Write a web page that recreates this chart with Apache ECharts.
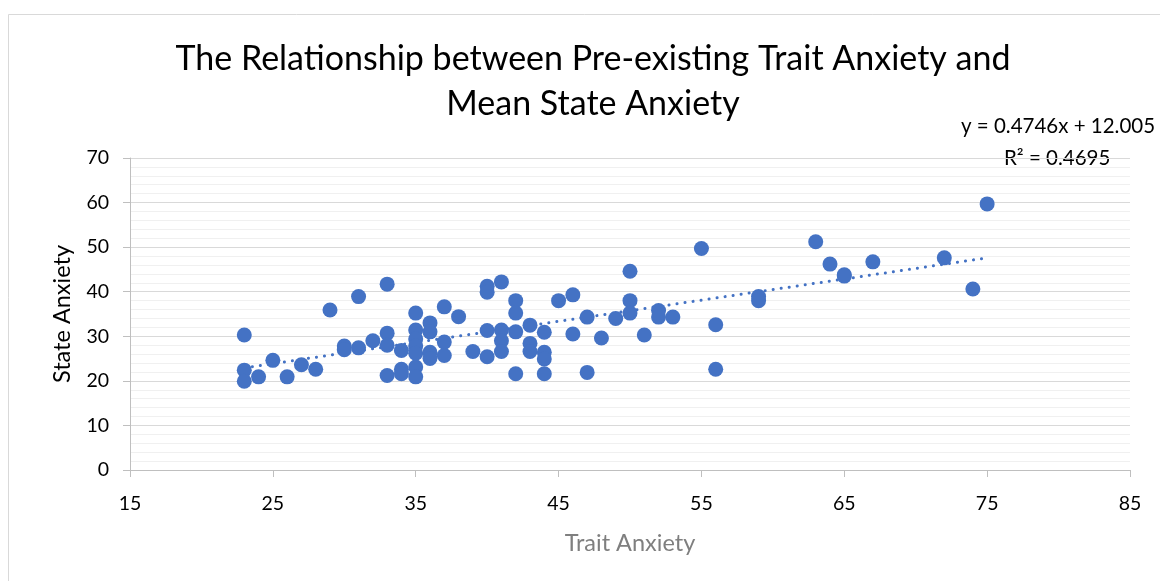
<!DOCTYPE html>
<html>
<head>
<meta charset="utf-8">
<script src="https://cdn.jsdelivr.net/npm/echarts@6/dist/echarts.min.js"></script>
<style>
  html, body { margin: 0; padding: 0; background: #ffffff; }
  #chart { width: 1160px; height: 581px; }
</style>
</head>
<body>
<div id="chart"></div>
<script>
// Participant scores: trait anxiety (x) and mean state anxiety (y)
const traitAnxiety = [
  23, 23, 23, 24, 25, 26, 27, 28, 29, 30, 30, 31, 31, 32,
  33, 33, 33, 33, 34, 34, 34,
  35, 35, 35, 35, 35, 35, 35,
  36, 36, 36, 36, 37, 37, 37, 38, 39,
  40, 40, 40, 40, 41, 41, 41, 41,
  42, 42, 42, 42, 43, 43, 43, 44, 44, 44, 44,
  45, 46, 46, 47, 47, 48, 49, 50, 50, 50, 51, 52, 52, 53,
  55, 56, 56, 59, 59, 63, 64, 65, 65, 67, 72, 74, 75
];
const stateAnxiety = [
  30.3, 22.4, 19.9, 20.9, 24.6, 20.9, 23.6, 22.6, 35.9, 27.8, 27.0, 38.9, 27.4, 29.0,
  41.7, 30.7, 28.0, 21.2, 26.8, 22.6, 21.6,
  35.2, 31.4, 29.4, 27.8, 26.2, 23.1, 20.9,
  33.0, 31.0, 26.4, 25.0, 36.6, 28.7, 25.7, 34.4, 26.6,
  41.2, 39.9, 31.3, 25.4, 42.2, 31.4, 29.0, 26.6,
  38.0, 35.2, 31.0, 21.6, 32.5, 28.4, 26.6, 30.9, 26.4, 24.9, 21.6,
  38.0, 39.3, 30.5, 34.3, 21.9, 29.6, 34.0, 44.6, 38.0, 35.2, 30.3, 35.8, 34.3, 34.3,
  49.7, 32.6, 22.6, 38.9, 38.0, 51.2, 46.2, 43.8, 43.5, 46.7, 47.6, 40.6, 59.7
];

// Linear trendline reported for the data
const trendSlope = 0.4746;
const trendIntercept = 12.005;
const trendRSquared = 0.4695;

const xTicks = [15, 25, 35, 45, 55, 65, 75, 85];

const points = traitAnxiety.map((x, i) => [x, stateAnxiety[i]]);
const xMinData = Math.min(...traitAnxiety);
const xMaxData = Math.max(...traitAnxiety);
const trend = [
  [xMinData, trendSlope * xMinData + trendIntercept],
  [xMaxData, trendSlope * xMaxData + trendIntercept]
];

const FONT = 'Lato, "Open Sans", sans-serif';
const BLUE = '#4472C4';

const chart = echarts.init(document.getElementById('chart'), null, { renderer: 'canvas' });
chart.setOption({
  animation: false,
  backgroundColor: '#ffffff',
  title: {
    text: 'The Relationship between Pre-existing Trait Anxiety and\nMean State Anxiety',
    left: 588,
    top: 32,
    textAlign: 'center',
    textStyle: {
      fontFamily: FONT,
      fontSize: 34,
      fontWeight: 'normal',
      color: '#000000',
      lineHeight: 45
    }
  },
  graphic: [
    {
      type: 'polyline',
      silent: true,
      shape: { points: [[8.5, 581], [8.5, 14.5], [1160, 14.5]] },
      style: { stroke: '#d9d9d9', lineWidth: 1, fill: null }
    },
    {
      type: 'text',
      left: 961,
      top: 116,
      style: {
        text: 'y = ' + trendSlope + 'x + ' + trendIntercept.toFixed(3),
        fontFamily: FONT,
        fontSize: 20.5,
        fill: '#000000'
      }
    },
    {
      type: 'text',
      left: 1004,
      top: 148,
      style: {
        text: 'R² = ' + trendRSquared,
        fontFamily: FONT,
        fontSize: 20.5,
        fill: '#000000'
      }
    }
  ],
  grid: {
    left: 130,
    right: 30,
    top: 158,
    bottom: 111,
    containLabel: false
  },
  xAxis: {
    type: 'value',
    min: 15,
    max: 85,
    interval: 10,
    name: 'Trait Anxiety',
    nameLocation: 'middle',
    nameGap: 61,
    nameTextStyle: { fontFamily: FONT, fontSize: 23.5, color: '#7f7f7f' },
    axisLine: { show: true, lineStyle: { color: '#bfbfbf', width: 1 } },
    axisTick: { show: true, length: 7, lineStyle: { color: '#bfbfbf' } },
    axisLabel: {
      fontFamily: FONT, fontSize: 19.5, color: '#000000', margin: 24,
      formatter: v => (xTicks.includes(v) ? String(v) : '')
    },
    splitLine: { show: false }
  },
  yAxis: {
    type: 'value',
    min: 0,
    max: 70,
    interval: 10,
    name: 'State Anxiety',
    nameLocation: 'middle',
    nameGap: 56,
    nameRotate: 90,
    nameTextStyle: { fontFamily: FONT, fontSize: 23.5, color: '#000000' },
    axisLine: { show: true, lineStyle: { color: '#bfbfbf', width: 1 } },
    axisTick: { show: true, length: 7, lineStyle: { color: '#bfbfbf' } },
    axisLabel: { fontFamily: FONT, fontSize: 19.5, color: '#000000', margin: 21 },
    splitLine: { show: true, lineStyle: { color: '#d9d9d9', width: 1 } },
    minorTick: { show: false, splitNumber: 5 },
    minorSplitLine: { show: true, lineStyle: { color: '#f0f0f0', width: 1 } }
  },
  series: [
    {
      name: 'Trendline',
      type: 'line',
      data: trend,
      symbol: 'none',
      silent: true,
      z: 3,
      lineStyle: { color: BLUE, width: 3, type: [0.1, 8], cap: 'round' }
    },
    {
      name: 'State Anxiety',
      type: 'scatter',
      data: points,
      symbol: 'circle',
      symbolSize: 15,
      z: 4,
      itemStyle: { color: BLUE, opacity: 1 }
    }
  ]
});
</script>
</body>
</html>
